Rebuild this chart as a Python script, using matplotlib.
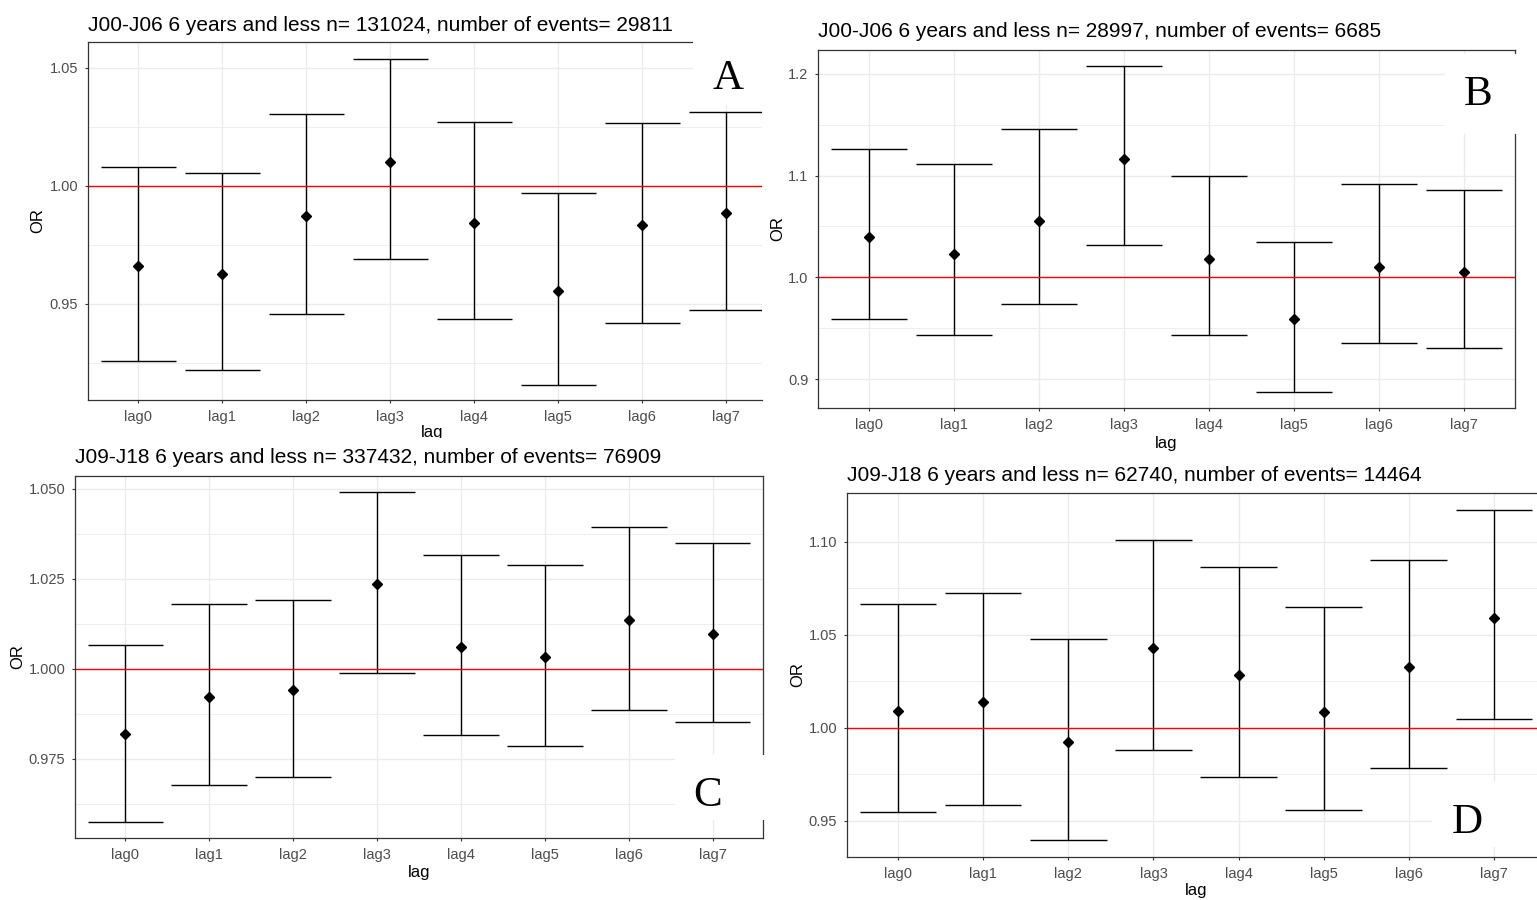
import numpy as np
import matplotlib.pyplot as plt
from matplotlib.patches import Rectangle

plt.rcParams["font.family"] = ["Liberation Sans", "DejaVu Sans"]

lags = ['lag0', 'lag1', 'lag2', 'lag3', 'lag4', 'lag5', 'lag6', 'lag7']

# panel A: J00-J06, n=131024
A_or = [0.9662, 0.9628, 0.9871, 1.0103, 0.9843, 0.9554, 0.9833, 0.9887]
A_lo = [0.9260, 0.9222, 0.9457, 0.9692, 0.9437, 0.9157, 0.9421, 0.9475]
A_hi = [1.0081, 1.0055, 1.0304, 1.0540, 1.0270, 0.9972, 1.0266, 1.0314]
# panel B: J00-J06, n=28997
B_or = [1.0396, 1.0229, 1.0554, 1.1159, 1.0180, 0.9587, 1.0105, 1.0056]
B_lo = [0.9590, 0.9430, 0.9738, 1.0318, 0.9430, 0.8873, 0.9351, 0.9306]
B_hi = [1.1261, 1.1114, 1.1458, 1.2080, 1.0999, 1.0350, 1.0920, 1.0861]
# panel C: J09-J18, n=337432
C_or = [0.9818, 0.9923, 0.9941, 1.0235, 1.0061, 1.0032, 1.0135, 1.0097]
C_lo = [0.9575, 0.9676, 0.9699, 0.9988, 0.9816, 0.9787, 0.9887, 0.9851]
C_hi = [1.0065, 1.0179, 1.0192, 1.0491, 1.0316, 1.0289, 1.0394, 1.0351]
# panel D: J09-J18, n=62740
D_or = [1.0090, 1.0136, 0.9921, 1.0428, 1.0281, 1.0086, 1.0324, 1.0591]
D_lo = [0.9545, 0.9583, 0.9395, 0.9878, 0.9735, 0.9558, 0.9785, 1.0045]
D_hi = [1.0666, 1.0724, 1.0476, 1.1007, 1.0862, 1.0648, 1.0901, 1.1171]

titles = ['J00-J06 6 years and less n= 131024, number of events= 29811',
          'J00-J06 6 years and less n= 28997, number of events= 6685',
          'J09-J18 6 years and less n= 337432, number of events= 76909',
          'J09-J18 6 years and less n= 62740, number of events= 14464']

W, H = 1537, 900
fig = plt.figure(figsize=(W / 100, H / 100), dpi=100)


def box(l, t, r, b):
    return [l / W, 1 - b / H, (r - l) / W, (b - t) / H]


def ftext(x, y, s, **kw):
    fig.text(x / W, 1 - y / H, s, **kw)


def white(l, t, r, b):
    fig.add_artist(Rectangle((l / W, 1 - b / H), (r - l) / W, (b - t) / H,
                             transform=fig.transFigure, facecolor='white',
                             edgecolor='none', zorder=5))


def panel(rect, xr, ylim, OR, lo, hi, major, minor, fmt):
    ax = fig.add_axes(box(*rect))
    x = np.arange(len(lags))
    lo = np.array(lo)
    hi = np.array(hi)
    ax.set_xlim(-0.6, xr)
    ax.set_ylim(ylim)
    ax.set_xticks(x)
    ax.set_xticklabels(lags)
    ax.set_yticks(major)
    ax.set_yticklabels([fmt % v for v in major])
    ax.set_yticks(minor, minor=True)
    ax.set_axisbelow(True)
    ax.grid(which='major', color='#ebebeb', lw=1.0)
    ax.grid(which='minor', axis='y', color='#ebebeb', lw=0.6)
    ax.tick_params(which='minor', length=0)
    ax.tick_params(which='major', length=2.5, width=0.8, color='#333333',
                   labelcolor='#4d4d4d', labelsize=10.5, pad=4.5)
    ax.vlines(x, lo, hi, color='black', lw=1.0)
    ax.hlines(lo, x - 0.45, x + 0.45, color='black', lw=1.0)
    ax.hlines(hi, x - 0.45, x + 0.45, color='black', lw=1.0)
    ax.axhline(1.0, color='red', lw=1.0)
    ax.plot(x, OR, 'D', ms=5.5, color='black')
    for s in ax.spines.values():
        s.set_color('#333333')
        s.set_linewidth(0.9)
    return ax


axA = panel((88, 42, 762, 400), 7.424, (0.9093, 1.0610), A_or, A_lo, A_hi,
            [0.95, 1.00, 1.05], [0.925, 0.975, 1.025], '%.2f')
axA.spines['right'].set_visible(False)
panel((818, 50, 1515, 408), 7.6, (0.8716, 1.2233), B_or, B_lo, B_hi,
      [0.9, 1.0, 1.1, 1.2], [0.95, 1.05, 1.15], '%.1f')
panel((75, 476, 763, 838), 7.6, (0.9530, 1.0536), C_or, C_lo, C_hi,
      [0.975, 1.000, 1.025, 1.050], [0.9625, 0.9875, 1.0125, 1.0375], '%.3f')
panel((847, 493, 1545, 857), 7.6, (0.9305, 1.1261), D_or, D_lo, D_hi,
      [0.95, 1.00, 1.05, 1.10], [0.975, 1.025, 1.075], '%.2f')

# titles
ftext(88, 31, titles[0], fontsize=15, va='baseline')
ftext(818, 37, titles[1], fontsize=15, va='baseline')
ftext(75, 463, titles[2], fontsize=15, va='baseline')
ftext(847, 481, titles[3], fontsize=15, va='baseline')

# axis labels
for x, y in [(432, 437), (1166, 448), (419, 877), (1196, 895)]:
    ftext(x, y, 'lag', fontsize=12, color='black', ha='center', va='baseline')
for x, y in [(38, 221), (778, 229), (18, 657), (798, 675)]:
    ftext(x, y, 'OR', fontsize=12, rotation=90, ha='center', va='center')

# white patches behind the panel letters
white(693, 30, 770, 105)
white(1445, 54, 1530, 134)
white(675, 755, 766, 820)
white(1432, 782, 1537, 847)
white(380, 438, 480, 446)

for x, y, s in [(728, 89, 'A'), (1478, 105, 'B'), (708, 806, 'C'), (1467, 833, 'D')]:
    fig.text(x / W, 1 - y / H, s, fontsize=31, family='Liberation Serif',
             ha='center', va='baseline', zorder=6)

plt.savefig('out.png', dpi=100)
